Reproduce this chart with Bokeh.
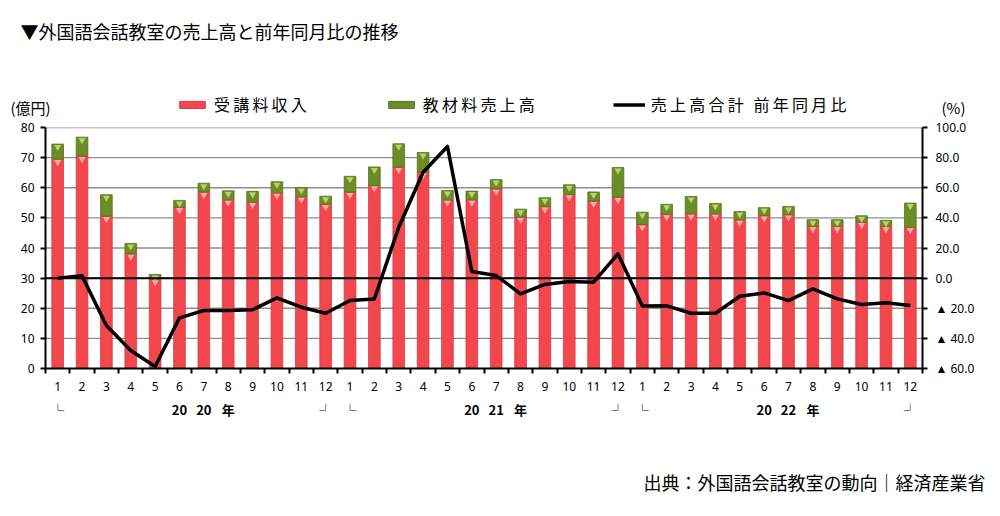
from bokeh.plotting import figure
from bokeh.layouts import column
from bokeh.models import (Range1d, LinearAxis, FixedTicker, Span, Label, Legend, LegendItem,
                          ColumnDataSource)
from bokeh.embed import file_html
from bokeh.resources import INLINE

# ---- data ----
months = [1, 2, 3, 4, 5, 6, 7, 8, 9, 10, 11, 12] * 3
year_row = ["└", "", "", "", "", "20", "20", "年", "", "", "", "┘",
            "└", "", "", "", "", "20", "21", "年", "", "", "", "┘",
            "└", "", "", "", "", "20", "22", "年", "", "", "", "┘"]
tuition = [69.5, 70.5, 50.6, 38.1, 29.6, 53.6, 58.6, 56.0, 55.3, 58.3, 57.0, 54.5,
           58.6, 60.8, 66.9, 65.2, 56.0, 56.0, 59.7, 50.3, 53.8, 57.8, 55.6, 56.9,
           47.8, 51.2, 51.4, 51.4, 49.4, 50.8, 51.1, 47.2, 47.2, 48.6, 47.2, 46.9]
materials = [5.0, 6.3, 7.1, 3.4, 1.6, 2.2, 2.9, 3.0, 3.5, 3.7, 3.1, 2.7,
             5.2, 6.1, 7.7, 6.5, 3.1, 2.9, 3.0, 2.6, 2.9, 3.2, 3.0, 9.8,
             4.1, 3.3, 5.7, 3.4, 2.7, 2.6, 2.7, 2.2, 2.2, 2.1, 2.0, 8.0]
yoy = [0.0, 1.5, -31.5, -48.0, -58.7, -26.4, -21.5, -21.5, -21.0, -13.1, -19.3, -23.3,
       -14.9, -13.8, 33.8, 70.3, 87.4, 4.4, 1.7, -10.4, -4.2, -2.3, -2.7, 16.1,
       -18.5, -18.4, -23.3, -23.3, -12.0, -9.8, -14.9, -7.1, -13.8, -17.5, -16.4, -18.2]
left_ticks = [0, 10, 20, 30, 40, 50, 60, 70, 80]
right_ticks = [-60, -40, -20, 0, 20, 40, 60, 80, 100]
right_labels = ["▲ 60.0", "▲ 40.0", "▲ 20.0", "0.0", "20.0", "40.0", "60.0", "80.0", "100.0"]

title_text = "▼外国語会話教室の売上高と前年同月比の推移"
source_text = "出典：外国語会話教室の動向｜経済産業省"
legend_names = ["受講料収入", "教材料売上高", "売上高合計 前年同月比"]
left_unit = "(億円)"
right_unit = "(%)"

JP = "Noto Sans CJK JP"
LAT = "Noto Sans"
RED, RED_EDGE = "#F3474E", "#D63C42"
GREEN, GREEN_EDGE = "#6C8C28", "#56721E"

W = 1000
HEAD_H = 117
FOOT_H = 60
MAIN_H = 516 - HEAD_H - FOOT_H
NAN = float("nan")

n = len(tuition)
xs = list(range(1, n + 1))
totals = [a + b for a, b in zip(tuition, materials)]
src = ColumnDataSource(dict(x=xs, tuition=tuition, total=totals, yoy=yoy,
                            tmark=[t - 1.0 for t in tuition],
                            gmark=[t - 1.0 for t in totals]))


def blank_fig(h):
    f = figure(width=W, height=h, output_backend="svg", toolbar_location=None,
               x_range=Range1d(0, W), y_range=Range1d(h, 0), min_border=0,
               x_axis_location=None, y_axis_location=None)
    f.frame_align = False
    f.outline_line_color = None
    f.xgrid.visible = False
    f.ygrid.visible = False
    f.border_fill_color = "white"
    return f


# ================= header (title, units, legend) =================
hdr = blank_fig(HEAD_H)
hdr.add_layout(Label(x=20, y=30, text=title_text, text_font=JP, text_font_size="18px",
                     text_baseline="middle", text_color="black"))
hdr.add_layout(Label(x=10, y=107, text=left_unit, text_font=JP, text_font_size="15px",
                     text_baseline="middle", text_color="black"))
hdr.add_layout(Label(x=941, y=107, text=right_unit, text_font=JP, text_font_size="15px",
                     text_baseline="middle", text_color="black"))

# legend keys styled like the series (a single NaN point so nothing is drawn in the header)
key_src = ColumnDataSource(dict(x=[NAN], y=[NAN]))
k_red = hdr.vbar(x="x", top="y", width=1, source=key_src, fill_color=RED, line_color=RED_EDGE)
k_green = hdr.vbar(x="x", top="y", width=1, source=key_src, fill_color=GREEN, line_color=GREEN_EDGE)
k_line = hdr.line(x="x", y="y", source=key_src, line_color="black", line_width=3.5)
spaced = ["\u2009".join(s) for s in legend_names]
legend = Legend(items=[LegendItem(label=spaced[0], renderers=[k_red]),
                       LegendItem(label=spaced[1], renderers=[k_green]),
                       LegendItem(label=spaced[2], renderers=[k_line])],
                orientation="horizontal", location=(176, 1),
                glyph_width=32, glyph_height=9, label_standoff=6, spacing=78,
                padding=0, margin=0, border_line_color=None, background_fill_alpha=0,
                label_text_font=JP, label_text_font_size="16px", label_text_color="black",
                label_height=18)
hdr.add_layout(legend, "center")

# ================= main chart =================
p = figure(width=W, height=MAIN_H, output_backend="svg", toolbar_location=None,
           x_range=Range1d(0.5, n + 0.5), y_range=Range1d(0, 80),
           min_border_left=45, min_border_right=78, min_border_top=10, min_border_bottom=88,
           x_axis_location=None, y_axis_location=None)
p.frame_align = False
p.extra_y_ranges = {"pct": Range1d(-60, 100)}
p.outline_line_color = None
p.background_fill_color = "white"
p.border_fill_color = "white"
p.xgrid.visible = False
p.ygrid.visible = False

# horizontal grid lines
for v in left_ticks[1:]:
    p.add_layout(Span(location=v, dimension="width", line_color="#8e8e8e", line_width=1.3, level="underlay"))

# bars
p.vbar(x="x", width=0.48, bottom=0, top="tuition", source=src,
       fill_color=RED, line_color=RED_EDGE, line_width=0.8)
p.vbar(x="x", width=0.48, bottom="tuition", top="total", source=src,
       fill_color=GREEN, line_color=GREEN_EDGE, line_width=0.8)
p.scatter(x="x", y="tmark", source=src, marker="inverted_triangle", size=7,
          fill_color="#FFA8A8", line_color=None)
p.scatter(x="x", y="gmark", source=src, marker="inverted_triangle", size=7,
          fill_color="#B5D56A", line_color=None)

# zero % line
p.add_layout(Span(location=0, dimension="width", y_range_name="pct",
                  line_color="black", line_width=2))

# yoy line
p.line(x="x", y="yoy", source=src, y_range_name="pct", line_color="black",
       line_width=3.5, line_join="round")


def style_axis(ax):
    ax.axis_line_width = 2
    ax.axis_line_color = "black"
    ax.major_tick_in = 0
    ax.major_tick_line_width = 2
    ax.major_tick_line_color = "black"
    ax.minor_tick_out = 0
    ax.minor_tick_in = 0
    ax.major_label_text_font = LAT
    ax.major_label_text_font_size = "12px"
    ax.major_label_text_color = "black"


la = LinearAxis(ticker=FixedTicker(ticks=left_ticks))
style_axis(la)
la.major_tick_out = 5
la.major_label_standoff = 6
p.add_layout(la, "left")

ra = LinearAxis(y_range_name="pct", ticker=FixedTicker(ticks=right_ticks),
                major_label_overrides={t: s for t, s in zip(right_ticks, right_labels)})
style_axis(ra)
ra.major_tick_out = 5
ra.major_label_standoff = 8
p.add_layout(ra, "right")

ba = LinearAxis(ticker=FixedTicker(ticks=xs, minor_ticks=[x - 0.5 for x in xs] + [n + 0.5]),
                major_label_overrides={x: str(m) for x, m in zip(xs, months)})
style_axis(ba)
ba.major_tick_out = 0
ba.minor_tick_out = 5
ba.minor_tick_line_width = 2
ba.minor_tick_line_color = "black"
ba.major_label_standoff = 8
p.add_layout(ba, "below")

ya = LinearAxis(ticker=FixedTicker(ticks=xs),
                major_label_overrides={x: s if s else " " for x, s in zip(xs, year_row)})
ya.axis_line_color = None
ya.major_tick_line_color = None
ya.minor_tick_line_color = None
ya.major_label_text_font = JP
ya.major_label_text_font_size = "13px"
ya.major_label_text_font_style = "bold"
ya.major_label_text_color = "black"
ya.major_label_standoff = 0
p.add_layout(ya, "below")

# ================= footer (source) =================
ftr = blank_fig(FOOT_H)
ftr.add_layout(Label(x=985, y=481 - (516 - FOOT_H), text=source_text, text_font=JP,
                     text_font_size="18px", text_baseline="middle", text_align="right",
                     text_color="black"))

layout = column(hdr, p, ftr, spacing=0)
open("out.html", "w").write(file_html(layout, INLINE))
